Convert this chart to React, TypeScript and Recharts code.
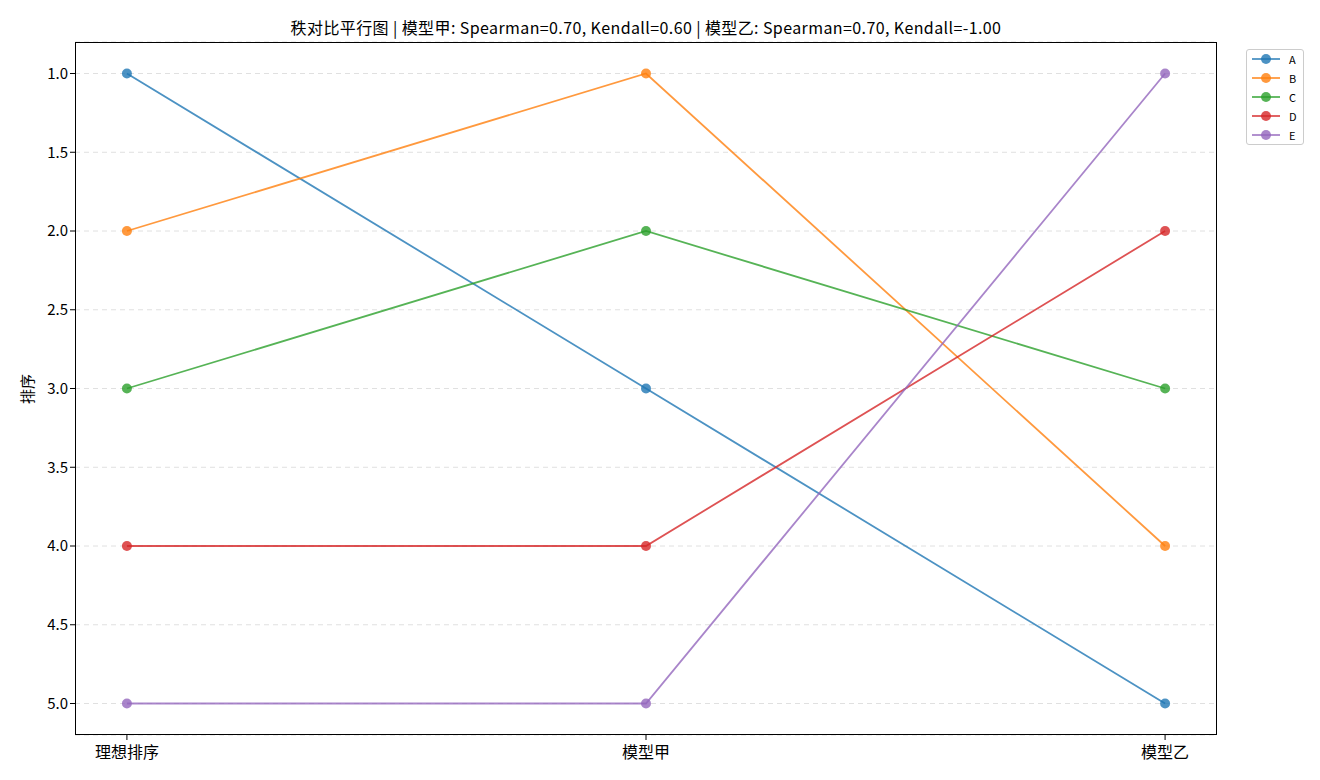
import { LineChart, Line, XAxis, YAxis, CartesianGrid } from "recharts";

const STAGES = ["理想排序", "模型甲", "模型乙"];
const SERIES = ["A", "B", "C", "D", "E"];
const COLORS = ["#1f77b4", "#ff7f0e", "#2ca02c", "#d62728", "#9467bd"];

// rank of each item per stage
const RANK_A = [1, 3, 5];
const RANK_B = [2, 1, 4];
const RANK_C = [3, 2, 3];
const RANK_D = [4, 4, 2];
const RANK_E = [5, 5, 1];
const RANKS = [RANK_A, RANK_B, RANK_C, RANK_D, RANK_E];

const Y_TICKS = [1, 1.5, 2, 2.5, 3, 3.5, 4, 4.5, 5];

const TITLE = "秩对比平行图 | 模型甲: Spearman=0.70, Kendall=0.60 | 模型乙: Spearman=0.70, Kendall=-1.00";

const FONT = '"Noto Sans CJK SC", "Noto Sans", sans-serif';

const rows = STAGES.map((_, i) => {
  const r: Record<string, number> = { x: i };
  SERIES.forEach((s, k) => { r[s] = RANKS[k][i]; });
  return r;
});

export default function App() {
  return (
    <div style={{ position: "relative", width: 1304, height: 764, fontFamily: FONT }}>
      <div style={{
        position: "absolute", left: 0, width: 1276, top: 7, textAlign: "center",
        fontSize: 16, letterSpacing: 0.4, color: "#000",
      }}>
        {TITLE}
      </div>
      <div style={{
        position: "absolute", left: 8, top: 396, fontSize: 15,
        transform: "rotate(-90deg)", transformOrigin: "left top",
      }}>
        排序
      </div>
      <LineChart width={1304} height={764} data={rows}
        margin={{ top: 34, right: 95, bottom: 0, left: 0 }}>
        <CartesianGrid vertical={false} stroke="#e0e0e0" strokeDasharray="5 4" />
        <XAxis dataKey="x" type="number" domain={[-0.1, 2.1]} ticks={[0, 1, 2]}
          tickFormatter={(v: number) => STAGES[v]} axisLine={false}
          tickSize={5} height={37} stroke="#000"
          tick={{ fill: "#000", fontSize: 16, fontFamily: FONT, dy: 5 }} />
        <YAxis type="number" reversed domain={[0.8, 5.2]} ticks={Y_TICKS}
          tickFormatter={(v: number) => v.toFixed(1)} axisLine={false}
          tickSize={5} width={67} stroke="#000"
          tick={{ fill: "#000", fontSize: 15, fontFamily: FONT }} />
        {SERIES.map((s, k) => (
          <Line key={s} dataKey={s} stroke={COLORS[k]} strokeOpacity={0.8}
            strokeWidth={1.8} isAnimationActive={false}
            dot={{ r: 5, fill: COLORS[k], fillOpacity: 0.8, stroke: "none" }}
            activeDot={false} />
        ))}
      </LineChart>
      <div style={{
        position: "absolute", left: 67, top: 34, width: 1142, height: 693,
        border: "1px solid #000", boxSizing: "border-box", pointerEvents: "none",
      }} />
      <div style={{
        position: "absolute", left: 1238, top: 41, width: 56, padding: 0,
        border: "1px solid #ccc", borderRadius: 3, background: "#fff", fontSize: 11,
      }}>
        {SERIES.map((s, k) => (
          <div key={s} style={{ display: "flex", alignItems: "center", height: 18.8 }}>
            <svg width={34} height={12} style={{ marginLeft: 3 }}>
              <line x1={2} x2={30} y1={6} y2={6} stroke={COLORS[k]} strokeOpacity={0.8} strokeWidth={1.8} />
              <circle cx={16} cy={6} r={5} fill={COLORS[k]} fillOpacity={0.8} />
            </svg>
            <span style={{ marginLeft: 5 }}>{s}</span>
          </div>
        ))}
      </div>
    </div>
  );
}
